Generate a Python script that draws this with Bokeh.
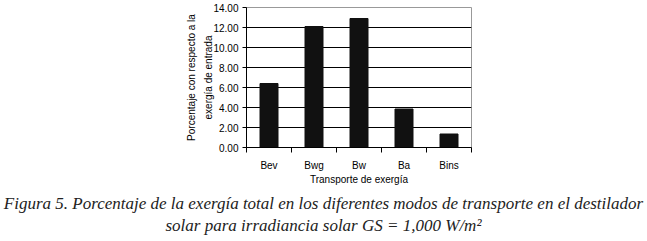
from bokeh.plotting import figure
from bokeh.models import FixedTicker, Div, LinearAxis
from bokeh.layouts import column
from bokeh.embed import file_html
from bokeh.resources import INLINE

categories = ["Bev", "Bwg", "Bw", "Ba", "Bins"]
values = [6.40, 12.10, 12.90, 3.85, 1.35]
y_ticks = [0, 2, 4, 6, 8, 10, 12, 14]
grid_ticks = [2, 4, 6, 8, 10, 12]

xpos = list(range(len(categories)))
bounds = [i - 0.5 for i in range(len(categories) + 1)]

p = figure(width=631, height=187, x_range=(-0.5, len(categories) - 0.5), y_range=(0, 14),
           output_backend="svg", toolbar_location=None,
           min_border_left=246, min_border_right=160, min_border_top=7, min_border_bottom=30)
p.background_fill_color = "white"
p.border_fill_color = "white"
p.outline_line_color = "#999999"
p.outline_line_width = 1

p.vbar(x=xpos, top=values, width=0.4, color="#111111")

p.xaxis.ticker = FixedTicker(ticks=xpos, minor_ticks=bounds)
p.xaxis.major_label_overrides = {i: c for i, c in zip(xpos, categories)}
p.xaxis.major_tick_out = 0
p.xaxis.major_tick_in = 0
p.xaxis.minor_tick_out = 5
p.xaxis.minor_tick_in = 0
p.xaxis.axis_label = "Transporte de exergía"

p.yaxis.ticker = FixedTicker(ticks=y_ticks)
p.yaxis.major_label_overrides = {t: f"{t:.2f}" for t in y_ticks}
p.yaxis.major_tick_out = 4
p.yaxis.major_tick_in = 0
p.yaxis.minor_tick_out = 0
p.yaxis.minor_tick_in = 0
p.yaxis.axis_label = "exergía de entrada"

# outer line of the two-line y-axis title
outer = LinearAxis(ticker=FixedTicker(ticks=[]), axis_label="Porcentaje con respecto a la",
                   axis_line_color=None, major_tick_line_color=None, minor_tick_line_color=None)
p.add_layout(outer, "left")

for ax in (p.xaxis[0], p.yaxis[0], outer):
    ax.major_label_text_font = "Liberation Sans"
    ax.major_label_text_font_size = "10px"
    ax.major_label_text_color = "black"
    ax.axis_label_text_font = "Liberation Sans"
    ax.axis_label_text_font_size = "10px"
    ax.axis_label_text_font_style = "normal"
    ax.axis_label_text_color = "black"
    ax.axis_label_standoff = 4
    ax.major_label_standoff = 4
for ax in (p.xaxis[0], p.yaxis[0]):
    ax.axis_line_color = "black"
    ax.major_tick_line_color = "black"
    ax.minor_tick_line_color = "black"
p.yaxis[0].axis_label_standoff = -4
outer.axis_label_standoff = 4
p.xaxis.axis_label_standoff = 0
p.xaxis.major_label_standoff = 7

p.xgrid.grid_line_color = None
p.ygrid.ticker = FixedTicker(ticks=grid_ticks)
p.ygrid.grid_line_color = "black"
p.ygrid.grid_line_width = 1

caption = Div(
    text=('<div style="width:647px;margin-top:6px;text-align:center;font-family:\'Liberation Serif\';'
          'font-style:italic;font-size:17px;line-height:22px;color:#222;white-space:nowrap;">'
          'Figura 5. Porcentaje de la exergía total en los diferentes modos de transporte en el destilador<br>'
          'solar para irradiancia solar GS = 1,000 W/m²</div>'),
    width=631, height=50, styles={"margin": "0", "padding": "0"})

layout = column(p, caption, spacing=0)
open("out.html", "w").write(file_html(layout, INLINE))
